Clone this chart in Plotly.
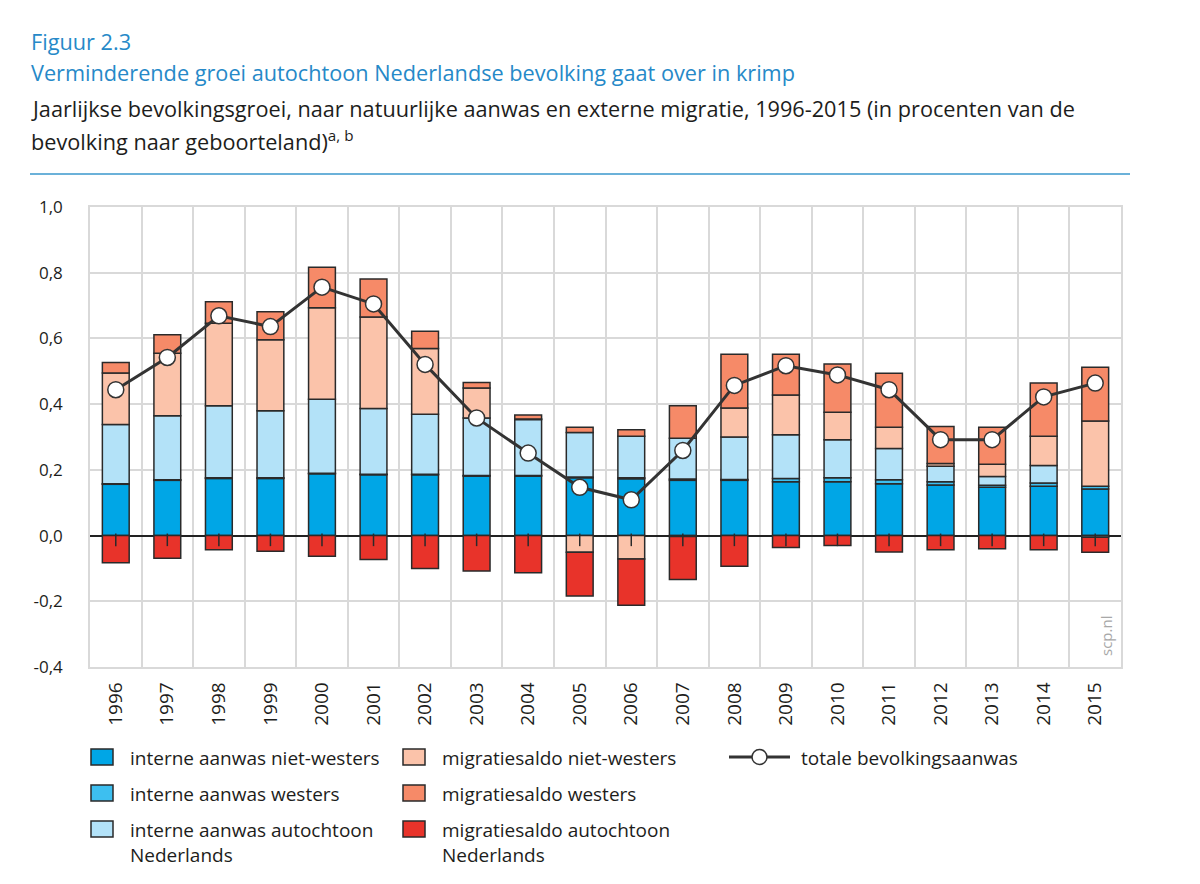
import plotly.graph_objects as go

# ---------------- data ----------------
years = ["1996", "1997", "1998", "1999", "2000", "2001", "2002", "2003", "2004", "2005",
         "2006", "2007", "2008", "2009", "2010", "2011", "2012", "2013", "2014", "2015"]

interne_niet_westers = [0.156, 0.168, 0.174, 0.174, 0.188, 0.185, 0.185, 0.181, 0.181, 0.176,
                        0.173, 0.168, 0.168, 0.164, 0.164, 0.158, 0.154, 0.147, 0.150, 0.142]
interne_westers = [0.002, 0.002, 0.002, 0.002, 0.002, 0.002, 0.002, 0.002, 0.002, 0.002,
                   0.003, 0.004, 0.003, 0.010, 0.012, 0.012, 0.010, 0.006, 0.010, 0.008]
interne_autochtoon = [0.180, 0.195, 0.219, 0.204, 0.225, 0.200, 0.182, 0.175, 0.170, 0.136,
                      0.126, 0.124, 0.129, 0.133, 0.116, 0.095, 0.047, 0.027, 0.053, -0.005]
migratie_niet_westers = [0.157, 0.190, 0.251, 0.216, 0.278, 0.278, 0.200, 0.091, 0.002, -0.051,
                         -0.071, -0.003, 0.088, 0.121, 0.083, 0.065, 0.008, 0.037, 0.089, 0.199]
migratie_westers = [0.032, 0.056, 0.066, 0.085, 0.124, 0.116, 0.053, 0.017, 0.012, 0.016,
                    0.020, 0.099, 0.164, 0.124, 0.147, 0.164, 0.113, 0.113, 0.162, 0.163]
migratie_autochtoon = [-0.083, -0.069, -0.043, -0.048, -0.063, -0.073, -0.100, -0.108, -0.113, -0.133,
                       -0.141, -0.131, -0.093, -0.036, -0.030, -0.050, -0.043, -0.040, -0.043, -0.046]
totale_aanwas = [0.444, 0.542, 0.669, 0.636, 0.756, 0.705, 0.521, 0.358, 0.251, 0.147,
                 0.109, 0.259, 0.457, 0.517, 0.489, 0.444, 0.292, 0.292, 0.422, 0.464]

y_tickvals = [-0.4, -0.2, 0.0, 0.2, 0.4, 0.6, 0.8, 1.0]
y_ticktext = ["-0,4", "-0,2", "0,0", "0,2", "0,4", "0,6", "0,8", "1,0"]

series = [
    ("interne aanwas niet-westers", interne_niet_westers, "#00a6e6"),
    ("interne aanwas westers", interne_westers, "#3dbff0"),
    ("interne aanwas autochtoon<br>Nederlands", interne_autochtoon, "#b3e2f8"),
    ("migratiesaldo niet-westers", migratie_niet_westers, "#fbc3aa"),
    ("migratiesaldo westers", migratie_westers, "#f68a68"),
    ("migratiesaldo autochtoon<br>Nederlands", migratie_autochtoon, "#e8332a"),
]

# ---------------- layout geometry (pixels) ----------------
W_PX, H_PX = 1200, 884
L, R, T, B = 90, 1121, 207, 667
PW, PH = R - L, B - T
FONT = "Open Sans"
INK = "#1d1d1b"
BLUE = "#2689c8"
OUTLINE = "#2a2a2a"


def fx(x):
    return (x - L) / PW


def fy(y):
    return (B - y) / PH


fig = go.Figure()

for name, vals, col in series:
    fig.add_trace(go.Bar(
        x=years, y=vals, name=name, width=0.52,
        marker=dict(color=col, line=dict(color=OUTLINE, width=1.5)),
        showlegend=False,
    ))

# small category ticks on the zero line
fig.add_trace(go.Scatter(
    x=years, y=[-0.013] * len(years), mode="markers",
    marker=dict(symbol="line-ns", size=9, line=dict(color=OUTLINE, width=1.5)),
    showlegend=False, hoverinfo="skip",
))

fig.add_trace(go.Scatter(
    x=years, y=totale_aanwas, mode="lines+markers", name="totale bevolkingsaanwas",
    line=dict(color="#333333", width=3),
    marker=dict(size=16, color="white", line=dict(color="#333333", width=1.5)),
    showlegend=False,
))

annotations = []
shapes = []

# titles
title_lines = [
    ("Figuur 2.3", 42, BLUE),
    ("Verminderende groei autochtoon Nederlandse bevolking gaat over in krimp", 73, BLUE),
    ("Jaarlijkse bevolkingsgroei, naar natuurlijke aanwas en externe migratie, 1996-2015 (in procenten van de", 108, INK),
    ("bevolking naar geboorteland)<sup>a, b</sup>", 141, INK),
]
for txt, ypx, col in title_lines:
    annotations.append(dict(
        text=txt, x=fx(29), y=fy(ypx), xref="paper", yref="paper",
        xanchor="left", yanchor="middle", showarrow=False,
        font=dict(family=FONT, size=21.7, color=col),
    ))

shapes.append(dict(type="line", xref="paper", yref="paper",
                   x0=fx(30), x1=fx(1130), y0=fy(174), y1=fy(174),
                   line=dict(color="#3a97cc", width=1.5)))

# watermark
annotations.append(dict(
    text="scp.nl", x=fx(1106), y=fy(636), xref="paper", yref="paper",
    xanchor="center", yanchor="middle", showarrow=False, textangle=-90,
    font=dict(family=FONT, size=15, color="#a8a8a8"),
))

# custom legend
legend_cols = [
    (91, 128, [0, 1, 2]),
    (403, 440, [3, 4, 5]),
]
rows_y = [757, 793, 829]
for sx, tx, idxs in legend_cols:
    for r, i in enumerate(idxs):
        name, _, col = series[i]
        yc = rows_y[r]
        shapes.append(dict(type="rect", xref="paper", yref="paper",
                           x0=fx(sx), x1=fx(sx + 22), y0=fy(yc - 8), y1=fy(yc + 8),
                           fillcolor=col, line=dict(color=OUTLINE, width=1.5)))
        annotations.append(dict(
            text=name, x=fx(tx), y=fy(yc - 14), xref="paper", yref="paper",
            xanchor="left", yanchor="top", align="left", showarrow=False,
            font=dict(family=FONT, size=19, color=INK),
        ))

# line legend
shapes.append(dict(type="line", xref="paper", yref="paper",
                   x0=fx(729), x1=fx(790), y0=fy(757), y1=fy(757),
                   line=dict(color="#333333", width=3)))
shapes.append(dict(type="circle", xref="paper", yref="paper",
                   x0=fx(752), x1=fx(767), y0=fy(749.5), y1=fy(764.5),
                   fillcolor="white", line=dict(color="#333333", width=1.5)))
annotations.append(dict(
    text="totale bevolkingsaanwas", x=fx(799), y=fy(757 - 14), xref="paper", yref="paper",
    xanchor="left", yanchor="top", align="left", showarrow=False,
    font=dict(family=FONT, size=19, color=INK),
))

fig.update_layout(
    width=W_PX, height=H_PX,
    margin=dict(l=L, r=W_PX - R, t=T, b=H_PX - B, pad=0),
    paper_bgcolor="white", plot_bgcolor="white",
    barmode="relative", bargap=0.48,
    font=dict(family=FONT, size=17, color=INK),
    annotations=annotations, shapes=shapes,
    xaxis=dict(
        type="category", range=[-0.5, len(years) - 0.5], tickangle=-90, tickson="boundaries",
        showgrid=True, gridcolor="#d9d9d9", gridwidth=1.5,
        showline=True, linecolor="#d9d9d9", linewidth=1.5, mirror=True,
        ticks="", tickfont=dict(family=FONT, size=19, color=INK),
        ticklabelstandoff=6,
    ),
    yaxis=dict(
        range=[-0.4, 1.0], tickvals=y_tickvals, ticktext=y_ticktext,
        showgrid=True, gridcolor="#d9d9d9", gridwidth=1.5,
        showline=True, linecolor="#d9d9d9", linewidth=1.5, mirror=True,
        zeroline=True, zerolinecolor="#222222", zerolinewidth=1.5,
        ticks="", tickfont=dict(family=FONT, size=17, color=INK),
        ticklabelstandoff=22,
    ),
)

fig.write_html("out.html", config={"displayModeBar": False},
               post_script="document.body.style.margin='0';")
